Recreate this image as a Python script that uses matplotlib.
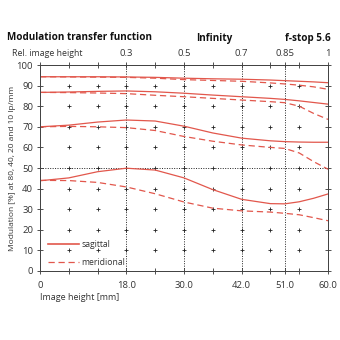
import numpy as np
import matplotlib
matplotlib.use("Agg")
import matplotlib.pyplot as plt

plt.rcParams['font.family'] = ['Open Sans', 'DejaVu Sans']

# image height [mm]
pos = [0, 6, 12, 18, 24, 30, 36, 42, 48, 51, 54, 57, 60]

# modulation [%] for 10, 20, 40 and 80 lp/mm
sag_10 = [94.3, 94.3, 94.3, 94.2, 94.0, 93.6, 93.3, 93.1, 92.7, 92.4, 92.1, 91.8, 91.4]
mer_10 = [94.3, 94.2, 94.1, 94.0, 93.6, 92.9, 92.5, 92.1, 91.3, 90.8, 90.2, 89.4, 88.2]
sag_20 = [86.7, 86.9, 87.2, 87.4, 87.0, 86.3, 85.4, 84.6, 83.8, 83.3, 82.6, 81.8, 81.0]
mer_20 = [86.7, 86.6, 86.4, 86.1, 85.3, 84.6, 83.8, 83.0, 82.2, 81.7, 80.0, 76.5, 73.6]
sag_40 = [70.0, 70.8, 72.3, 73.3, 72.8, 70.3, 67.0, 64.5, 63.2, 62.8, 62.6, 62.5, 62.5]
mer_40 = [70.0, 70.2, 70.0, 69.6, 68.2, 65.3, 63.0, 61.2, 60.0, 59.5, 57.3, 53.1, 49.4]
sag_80 = [43.8, 45.2, 48.2, 49.9, 49.0, 45.2, 39.5, 34.8, 32.7, 32.6, 33.6, 35.3, 37.4]
mer_80 = [44.0, 43.9, 43.0, 40.8, 37.5, 33.5, 30.5, 29.2, 28.6, 28.0, 27.3, 25.9, 24.4]

mark_lines = [18, 30, 42, 51]
bottom_labels = {0: '0', 18: '18.0', 30: '30.0', 42: '42.0', 51: '51.0', 60: '60.0'}
top_labels = {18: '0.3', 30: '0.5', 42: '0.7', 51: '0.85', 60: '1'}

red = '#e2574c'
grey = '#333333'

fig = plt.figure(figsize=(3.4, 3.4), dpi=100)
ax = fig.add_axes([40 / 340, 1 - 271 / 340, 288 / 340, 206 / 340])

# grid crosses
gx, gy = np.meshgrid(np.arange(6, 60, 6), np.arange(10, 100, 10))
ax.scatter(gx.ravel(), gy.ravel(), marker='+', s=8, lw=0.6, color='#222222', zorder=1)

for x in mark_lines:
    ax.axvline(x, color='#222222', ls=(0, (1, 1.5)), lw=0.7, zorder=1)
ax.axhline(50, color='#222222', ls=(0, (1, 1.5)), lw=0.7, zorder=1)

for s, m in [(sag_10, mer_10), (sag_20, mer_20), (sag_40, mer_40), (sag_80, mer_80)]:
    ax.plot(pos, s, color=red, lw=0.9, zorder=3)
    ax.plot(pos, m, color=red, lw=0.9, dashes=(5, 3), zorder=3)

ax.plot([], [], color=red, lw=1.2, label='sagittal')
ax.plot([], [], color=red, lw=0.9, dashes=(5, 3), label='meridional')
ax.legend(loc='lower left', bbox_to_anchor=(0.0, -0.02), frameon=False, fontsize=6.2,
          handlelength=3.6, labelspacing=1.1, handletextpad=0.3,
          labelcolor='#333333')

ax.set_xlim(0, 60)
ax.set_ylim(0, 100)
xt = sorted(set(range(0, 61, 6)) | {51})
ax.set_xticks(xt)
ax.set_xticklabels([bottom_labels.get(x, '') for x in xt])
ax.set_yticks(range(0, 101, 10))
ax.tick_params(direction='inout', length=4, width=0.6, labelsize=6.8, colors=grey,
               right=True, pad=3)
ax.tick_params(axis='x', pad=5)

top = ax.twiny()
top.set_xlim(0, 60)
top.set_xticks(xt)
top.set_xticklabels([top_labels.get(x, '') for x in xt])
top.tick_params(direction='inout', length=4, width=0.6, labelsize=6.8, colors=grey, pad=3)

for a in (ax, top):
    for sp in a.spines.values():
        sp.set_color('#444444')
        sp.set_linewidth(0.7)

ax.set_ylabel('Modulation [%] at 80, 40, 20 and 10 lp/mm', fontsize=6.0, color=grey)
ax.yaxis.set_label_coords(-0.083, 0.5)
fig.text(40 / 340, 1 - 297 / 340, 'Image height [mm]', fontsize=6.5, color=grey, va='center')
fig.text(12 / 340, 1 - 53 / 340, 'Rel. image height', fontsize=6.3, color=grey, va='center')

fig.text(7 / 340, 1 - 38 / 340, 'Modulation transfer function', fontsize=7.1,
         fontweight='bold', va='center', color='#111111')
fig.text(214 / 340, 1 - 38 / 340, 'Infinity', fontsize=7.1, fontweight='bold',
         va='center', ha='center', color='#111111')
fig.text(331 / 340, 1 - 38 / 340, 'f-stop 5.6', fontsize=7.1, fontweight='bold',
         va='center', ha='right', color='#111111')

fig.savefig('out.png', dpi=100)
